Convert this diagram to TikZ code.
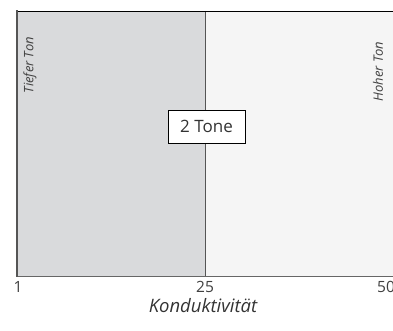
\documentclass[tikz,border=0pt]{standalone}
\usepackage{fontspec}
\setmainfont{Open Sans}
\definecolor{lowfill}{HTML}{D9DADC}
\definecolor{highfill}{HTML}{F5F5F5}
\definecolor{edgegray}{HTML}{555555}
\begin{document}
\begin{tikzpicture}[x=1pt,y=-1pt,
  ticklbl/.style={font=\fontsize{15.5}{18}\selectfont, text=black!75, inner sep=0pt},
  sidelbl/.style={font=\itshape\fontsize{13}{15}\selectfont, text=black!75, rotate=90, inner sep=0pt},
  tonebox/.style={draw=black, fill=white, line width=0.8pt, minimum width=77pt, minimum height=33pt, inner sep=0pt, font=\fontsize{17}{20}\selectfont, text=black!80}]
\useasboundingbox (0,0) rectangle (393,331);
\begin{scope}
\clip (0,0) rectangle (393,331);
\fill[lowfill] (17,11) rectangle (205,276);
\fill[highfill] (205,11) rectangle (402,276);
\draw[edgegray, line width=0.8pt] (205,11) -- (205,276);
\draw[edgegray!90, line width=0.8pt] (17,276) -- (402,276);
\draw[black, line width=0.9pt] (17,11) -- (402,11);
\draw[edgegray, line width=1.5pt] (17,10.5) -- (17,276.5);
\node[sidelbl] (low) at (30,65) {Tiefer Ton};
\node[sidelbl] (high) at (378,71.5) {Hoher Ton};
\node[tonebox] (two) at (206.5,126.5) {2 Tone};
\node[ticklbl] (t1) at (18,287) {1};
\node[ticklbl] (t25) at (205,287) {25};
\node[ticklbl] (t50) at (386,287) {50};
\node[font=\itshape\fontsize{18.5}{22}\selectfont, text=black!80, inner sep=0pt] (xl) at (203,306) {Konduktivität};
\end{scope}
\end{tikzpicture}
\end{document}
